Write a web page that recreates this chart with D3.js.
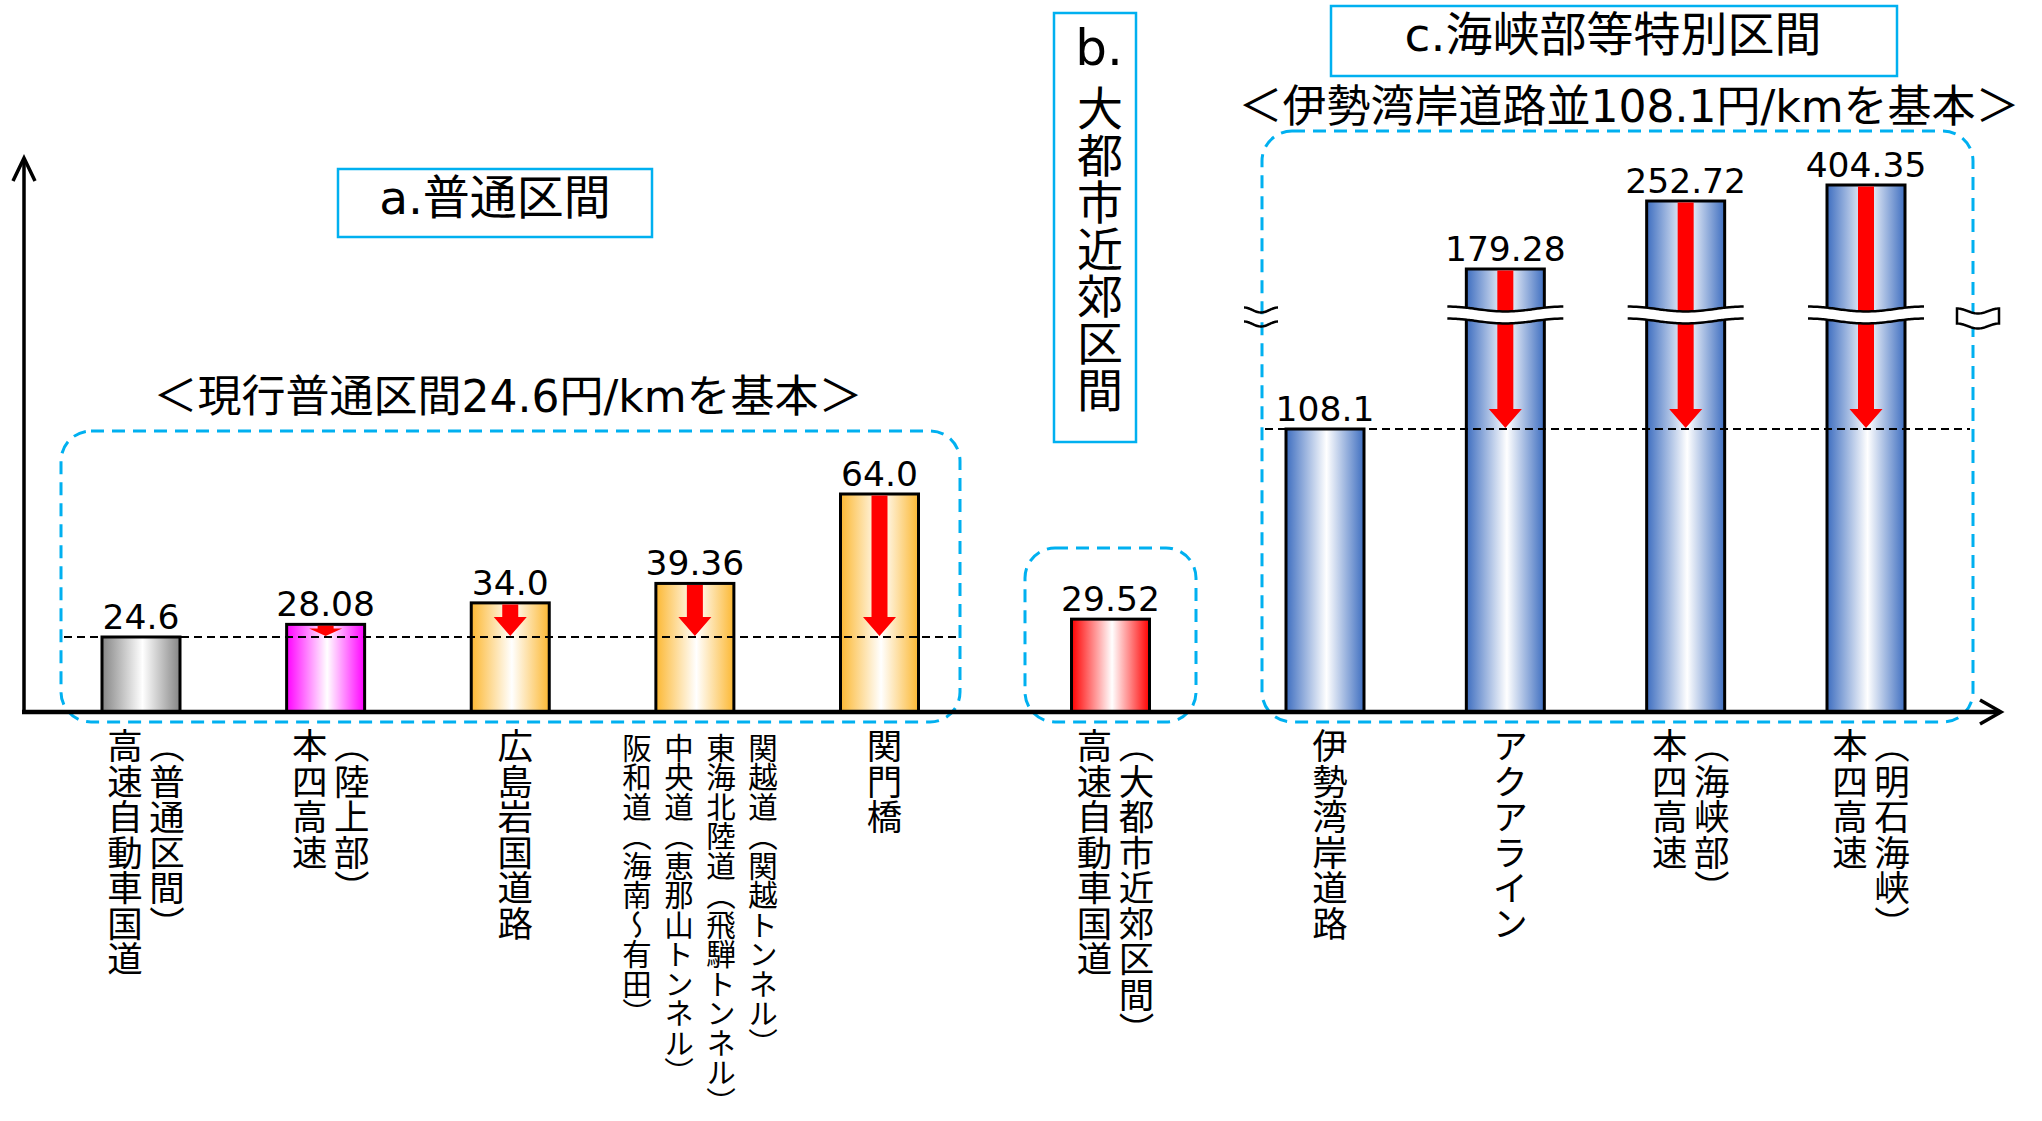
<!DOCTYPE html>
<html><head><meta charset="utf-8">
<script src="https://cdn.jsdelivr.net/npm/d3@7"></script>
<style>
html,body{margin:0;padding:0;background:#fff;overflow:hidden;}
svg{display:block;}
text{font-family:"DejaVu Sans","Noto Sans CJK JP",sans-serif;fill:#000;}
</style></head><body>
<svg id="chart" width="2042" height="1121"></svg>
<script>
// ---------------- data ----------------
const groups = ["a", "b", "c"];
const groupTitles = ["a.普通区間", "b.大都市近郊区間", "c.海峡部等特別区間"];
const groupSubtitles = ["＜現行普通区間24.6円/kmを基本＞", "", "＜伊勢湾岸道路並108.1円/kmを基本＞"];
const groupBaseValues = [24.6, 29.52, 108.1];

const categories = [
  "高速自動車国道（普通区間）", "本四高速（陸上部）", "広島岩国道路",
  "関越道・東海北陸道・中央道・阪和道", "関門橋",
  "高速自動車国道（大都市近郊区間）",
  "伊勢湾岸道路", "アクアライン", "本四高速（海峡部）", "本四高速（明石海峡）"
];
const categoryGroups = ["a", "a", "a", "a", "a", "b", "c", "c", "c", "c"];
const values = [24.6, 28.08, 34.0, 39.36, 64.0, 29.52, 108.1, 179.28, 252.72, 404.35];
const valueLabels = ["24.6", "28.08", "34.0", "39.36", "64.0", "29.52", "108.1", "179.28", "252.72", "404.35"];
const barKinds = ["grey", "pink", "orange", "orange", "orange", "red", "blue", "blue", "blue", "blue"];
// label columns, listed left to right
const labelColumns = [
  ["高速自動車国道", "（普通区間）"],
  ["本四高速", "（陸上部）"],
  ["広島岩国道路"],
  ["阪和道（海南～有田）", "中央道（恵那山トンネル）", "東海北陸道（飛騨トンネル）", "関越道（関越トンネル）"],
  ["関門橋"],
  ["高速自動車国道", "（大都市近郊区間）"],
  ["伊勢湾岸道路"],
  ["アクアライン"],
  ["本四高速", "（海峡部）"],
  ["本四高速", "（明石海峡）"]
];
// schematic (broken) value axis breakpoints
const axisBreakValues = [0, 24.6, 64, 108.1, 179.28, 252.72, 404.35];
const axisBreakAbove = 150; // bars above this value are drawn with a break mark

// ---------------- layout ----------------
const svg = d3.select("#chart");
const defs = svg.append("defs");
const baseY = 712;
const barW = 78;
const y = d3.scaleLinear().domain(axisBreakValues).range([baseY, 637, 494, 429, 269, 201, 185]);

const groupRanges = {a: [141, 879.5], b: [1025, 1196], c: [1325, 1866]};
const xScales = {};
groups.forEach(g => {
  xScales[g] = d3.scalePoint()
    .domain(categories.filter((c, i) => categoryGroups[i] === g))
    .range(groupRanges[g]);
});
const cx = i => xScales[categoryGroups[i]](categories[i]);

const palette = {grey: "#858585", pink: "#ff00ff", orange: "#fcb833", red: "#ff0000", blue: "#3e6ec0"};
Object.entries(palette).forEach(([k, c]) => {
  const lg = defs.append("linearGradient").attr("id", "grad-" + k)
    .attr("x1", 0).attr("x2", 1).attr("y1", 0).attr("y2", 0);
  lg.append("stop").attr("offset", 0).attr("stop-color", c);
  lg.append("stop").attr("offset", 0.52).attr("stop-color", "#ffffff");
  lg.append("stop").attr("offset", 1).attr("stop-color", c);
});

const accent = "#00b0f0";
const groupBoxes = {a: [61, 431, 960, 722], b: [1025, 548, 1196, 722], c: [1262, 131, 1973, 722]};

// dashed group boxes
groups.forEach(g => {
  const [x0, y0, x1, y1] = groupBoxes[g];
  svg.append("rect").attr("x", x0).attr("y", y0).attr("width", x1 - x0).attr("height", y1 - y0)
    .attr("rx", 30).attr("ry", 30)
    .attr("fill", "none").attr("stroke", accent).attr("stroke-width", 3)
    .attr("stroke-dasharray", "13 8");
});

// bars
const bars = svg.append("g");
values.forEach((v, i) => {
  bars.append("rect")
    .attr("x", cx(i) - barW / 2).attr("y", y(v))
    .attr("width", barW).attr("height", baseY - y(v))
    .attr("fill", `url(#grad-${barKinds[i]})`)
    .attr("stroke", "#000").attr("stroke-width", 3);
});

// red arrows from bar top to the group's reference level
const arrows = svg.append("g");
values.forEach((v, i) => {
  const gi = groups.indexOf(categoryGroups[i]);
  const base = groupBaseValues[gi];
  if (v <= base) return;
  const top = y(v) + 1.5, tip = y(base) - 1;
  const len = tip - top;
  const headH = Math.min(19, len * 0.75);
  const sw = 8, hw = 16.5, x = cx(i);
  const p = d3.path();
  p.moveTo(x - sw, top); p.lineTo(x + sw, top); p.lineTo(x + sw, tip - headH);
  p.lineTo(x + hw, tip - headH); p.lineTo(x, tip); p.lineTo(x - hw, tip - headH);
  p.lineTo(x - sw, tip - headH); p.closePath();
  arrows.append("path").attr("d", p.toString()).attr("fill", "#ff0000");
});

// wave helper
function wave(x0, x1, yy, amp, n = 40) {
  return d3.range(n + 1).map(k => {
    const t = k / n;
    return [x0 + (x1 - x0) * t, yy - amp * Math.cos(2 * Math.PI * t)];
  });
}
const breakY = 315;
const line = d3.line().curve(d3.curveBasis);
values.forEach((v, i) => {
  if (v <= axisBreakAbove) return;
  const x0 = cx(i) - barW / 2 - 19, x1 = cx(i) + barW / 2 + 19;
  const top = wave(x0, x1, breakY - 6, 2.5), bot = wave(x0, x1, breakY + 6, 2.5);
  const area = top.concat(bot.slice().reverse());
  svg.append("path").attr("d", d3.line()(area) + "Z").attr("fill", "#fff");
  [top, bot].forEach(pts => svg.append("path").attr("d", line(pts))
    .attr("fill", "none").attr("stroke", "#000").attr("stroke-width", 2.5));
});
// axis-break symbols at the edges of group c
(function () {
  const lx = groupBoxes.c[0];
  [breakY - 5, breakY + 9].forEach(yy => svg.append("path")
    .attr("d", line(wave(lx - 18, lx + 16, yy, 2.5)))
    .attr("fill", "none").attr("stroke", "#000").attr("stroke-width", 2.5));
  const rx = groupBoxes.c[2];
  const t = wave(rx - 16, rx + 26, breakY - 4, 2.5), b = wave(rx - 16, rx + 26, breakY + 11, 2.5);
  svg.append("path").attr("d", d3.line()(t.concat(b.slice().reverse())) + "Z")
    .attr("fill", "#fff").attr("stroke", "#000").attr("stroke-width", 2.5);
})();

// reference dashed lines
groups.forEach((g, gi) => {
  if (g === "b") return;
  const [x0, , x1] = groupBoxes[g];
  const yy = y(groupBaseValues[gi]);
  svg.append("line").attr("x1", x0 + 3).attr("x2", x1 - 3).attr("y1", yy).attr("y2", yy)
    .attr("stroke", "#000").attr("stroke-width", 2).attr("stroke-dasharray", "8 5");
});

// axes
svg.append("line").attr("x1", 24).attr("x2", 24).attr("y1", baseY + 2).attr("y2", 158)
  .attr("stroke", "#000").attr("stroke-width", 3.5);
svg.append("path").attr("d", "M13,181 L24,158 L35,181").attr("fill", "none")
  .attr("stroke", "#000").attr("stroke-width", 3.5);
svg.append("line").attr("x1", 22).attr("x2", 2000).attr("y1", baseY).attr("y2", baseY)
  .attr("stroke", "#000").attr("stroke-width", 4.5);
svg.append("path").attr("d", `M1980,${baseY - 12} L2001,${baseY} L1980,${baseY + 12}`).attr("fill", "none")
  .attr("stroke", "#000").attr("stroke-width", 3.5);

// value labels
values.forEach((v, i) => {
  svg.append("text").attr("x", cx(i)).attr("y", y(v) - 8)
    .attr("text-anchor", "middle").attr("font-size", 34.5).text(valueLabels[i]);
});

// category labels (vertical)
labelColumns.forEach((cols, i) => {
  const n = cols.length;
  cols.forEach((txt, j) => {
    svg.append("text")
      .attr("x", cx(i) + 2 + (j - (n - 1) / 2) * 42)
      .attr("y", n > 2 ? 733 : 728)
      .attr("font-size", n > 2 ? 29.5 : 35.5)
      .style("writing-mode", "vertical-rl")
      .text(txt);
  });
});

// group titles
svg.append("rect").attr("x", 338).attr("y", 169).attr("width", 314).attr("height", 68)
  .attr("fill", "none").attr("stroke", accent).attr("stroke-width", 2.5);
svg.append("text").attr("x", 495).attr("y", 197).attr("dominant-baseline", "central")
  .attr("text-anchor", "middle").attr("font-size", 47).text(groupTitles[0]);

svg.append("rect").attr("x", 1054).attr("y", 13).attr("width", 82).attr("height", 429)
  .attr("fill", "none").attr("stroke", accent).attr("stroke-width", 2.5);
const bTitle = groupTitles[1];
svg.append("text").attr("x", 1099).attr("y", 65).attr("text-anchor", "middle")
  .attr("font-size", 50).text(bTitle.slice(0, 2));
svg.append("text").attr("x", 1096).attr("y", 85).attr("font-size", 46)
  .style("writing-mode", "vertical-rl").style("letter-spacing", "1px").text(bTitle.slice(2));

svg.append("rect").attr("x", 1331).attr("y", 6).attr("width", 566).attr("height", 70)
  .attr("fill", "none").attr("stroke", accent).attr("stroke-width", 2.5);
svg.append("text").attr("x", 1613).attr("y", 34).attr("dominant-baseline", "central")
  .attr("text-anchor", "middle").attr("font-size", 47).text(groupTitles[2]);

// subtitles
svg.append("text").attr("x", 508).attr("y", 396).attr("dominant-baseline", "central")
  .attr("text-anchor", "middle").attr("font-size", 44).text(groupSubtitles[0]);
svg.append("text").attr("x", 1629).attr("y", 106).attr("dominant-baseline", "central")
  .attr("text-anchor", "middle").attr("font-size", 44).text(groupSubtitles[2]);
</script>
</body></html>
